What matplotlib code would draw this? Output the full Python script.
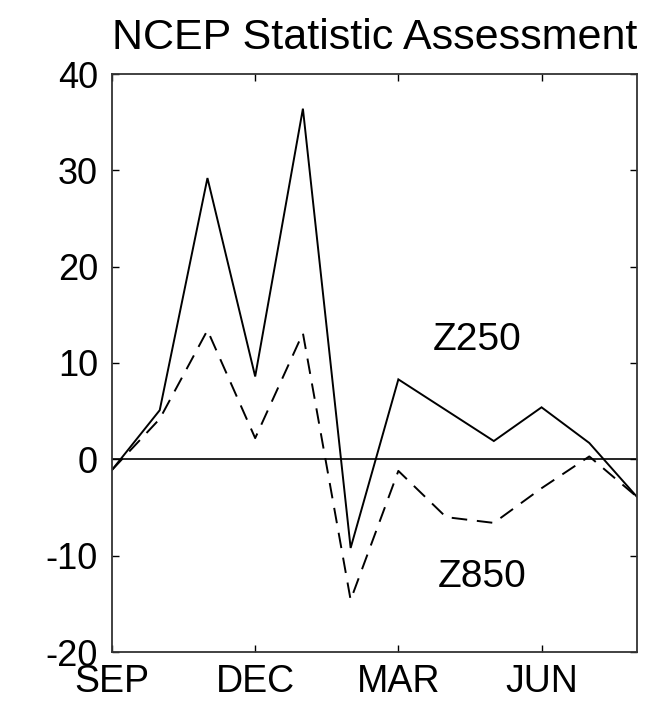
import matplotlib
matplotlib.use("Agg")
import matplotlib.pyplot as plt

months = ["SEP", "OCT", "NOV", "DEC", "JAN", "FEB", "MAR", "APR", "MAY", "JUN", "JUL", "AUG"]
z250 = [-1.1, 5.1, 29.2, 8.6, 36.4, -9.2, 8.3, 5.1, 1.9, 5.4, 1.7, -3.9]
z850 = [-1.1, 4.2, 13.4, 2.2, 13.1, -14.6, -1.2, -6.0, -6.6, -3.0, 0.3, -3.9]
tick_months = ["SEP", "DEC", "MAR", "JUN"]
yticks = [-20, -10, 0, 10, 20, 30, 40]

plt.rcParams['font.family'] = ['Liberation Sans', 'DejaVu Sans']

fig = plt.figure(figsize=(6.6, 7.03), dpi=100)
ax = fig.add_axes([112/660, 51/703, 525/660, 578/703])

x = list(range(len(months)))
ax.plot(x, z250, color='black', lw=1.4, solid_joinstyle='miter')
ax.plot(x, z850, color='black', lw=1.4, linestyle=(0, (8, 5)))
ax.axhline(0, color='black', lw=1.2)

ax.set_xlim(0, len(months) - 1)
ax.set_ylim(-20, 40)
ax.set_xticks([months.index(m) for m in tick_months])
ax.set_xticklabels(tick_months)
ax.set_yticks(yticks)
ax.set_yticklabels([str(v) for v in yticks])
ax.tick_params(direction='in', length=5, width=1, top=True, right=True,
               labelsize=26, colors='black')
ax.tick_params(axis='x', pad=9, labelsize=27)
ax.tick_params(axis='y', pad=10)
for s in ax.spines.values():
    s.set_linewidth(1.3)
    s.set_color('#333333')

ax.text(7.65, 12.4, "Z250", fontsize=28, ha='center', va='center')
ax.text(7.76, -12.2, "Z850", fontsize=28, ha='center', va='center')
ax.set_title("NCEP Statistic Assessment", fontsize=31, pad=18)

fig.savefig("out.png", dpi=100)
